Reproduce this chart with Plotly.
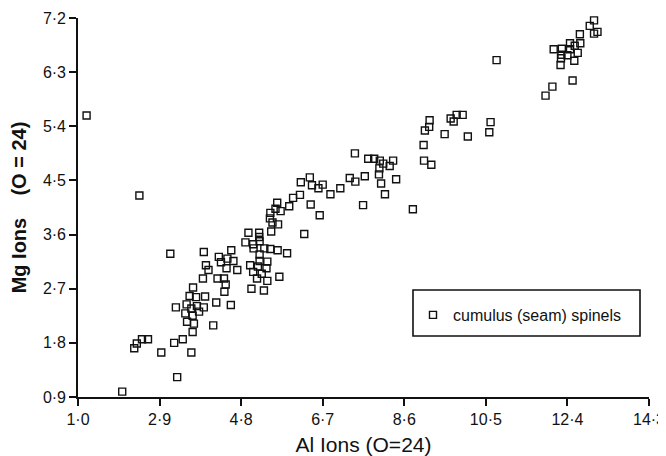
import plotly.graph_objects as go

# Data (Al ions vs Mg ions, O = 24)
al_ions = [
    1.20, 2.43, 3.15, 2.03, 3.31, 8.80, 10.75,
    2.31, 2.37, 2.49, 2.63, 2.94, 3.24, 3.44, 3.64, 3.67, 3.70, 3.54, 3.50,
    3.64, 3.77, 3.82, 3.67, 3.28, 3.53, 3.60, 3.75, 3.68, 3.93, 3.96, 4.15,
    4.22, 4.56, 3.91, 3.98, 4.04, 3.93, 4.25, 4.40, 4.41, 4.44, 4.28, 4.33,
    4.48, 4.46, 4.62, 4.57, 4.71,
    4.90, 4.97, 5.22, 5.22, 5.08, 5.23, 5.09, 5.23, 5.34, 5.48, 5.65, 5.87,
    5.01, 5.08, 5.19, 5.23, 5.41, 5.39, 5.28, 5.17, 5.41, 5.04, 5.33, 5.69,
    5.50, 5.66, 5.53, 5.47, 5.48, 5.60, 5.64, 5.72, 5.92, 6.01, 6.17, 6.27,
    6.19, 6.40, 6.45, 6.42, 6.60, 6.70, 6.63, 6.88, 7.11, 7.33, 7.45, 7.46,
    7.64, 7.68, 7.76, 7.90, 8.03, 8.11, 8.02, 8.26, 8.34, 8.01, 8.06, 8.15,
    8.41,
    9.05, 9.08, 9.18, 9.19, 9.06, 9.23, 9.54, 9.68, 9.75, 9.82, 9.96, 10.08,
    10.58, 10.61,
    11.89, 12.05, 12.52, 12.08, 12.27, 12.26, 12.25, 12.24, 12.40, 12.46,
    12.46, 12.57, 12.64, 12.56, 12.70, 12.69, 12.92, 13.02, 13.10, 13.02,
    12.97,
]
mg_ions = [
    5.58, 4.25, 3.28, 0.99, 1.23, 4.02, 6.50,
    1.71, 1.79, 1.86, 1.86, 1.64, 1.80, 1.86, 1.64, 1.98, 2.12, 2.15, 2.29,
    2.37, 2.41, 2.32, 2.25, 2.39, 2.44, 2.58, 2.56, 2.72, 2.39, 2.57, 2.09,
    2.47, 2.43, 2.87, 3.09, 3.01, 3.31, 2.87, 2.87, 2.65, 2.77, 3.23, 3.14,
    3.20, 3.04, 3.16, 3.34, 3.01,
    3.47, 3.63, 3.63, 3.56, 3.44, 3.49, 3.37, 3.27, 3.37, 3.36, 3.34, 3.29,
    3.09, 2.98, 3.07, 3.16, 3.15, 3.04, 2.95, 2.87, 2.83, 2.70, 2.67, 2.90,
    3.65, 3.77, 3.80, 3.87, 3.96, 4.03, 4.13, 3.99, 4.07, 4.21, 4.26, 3.61,
    4.47, 4.55, 4.42, 4.10, 4.37, 4.43, 3.92, 4.27, 4.37, 4.54, 4.95, 4.48,
    4.09, 4.57, 4.86, 4.86, 4.83, 4.78, 4.70, 4.74, 4.83, 4.60, 4.45, 4.27,
    4.52,
    5.09, 5.33, 5.39, 5.50, 4.83, 4.76, 5.27, 5.53, 5.48, 5.59, 5.59, 5.23,
    5.30, 5.47,
    5.91, 6.06, 6.16, 6.68, 6.69, 6.59, 6.53, 6.42, 6.58, 6.68,
    6.78, 6.74, 6.62, 6.49, 6.78, 6.93, 7.07, 6.94, 6.97, 7.16,
    7.26,
]

x_ticks = [1.0, 2.9, 4.8, 6.7, 8.6, 10.5, 12.4, 14.3]
x_tick_text = ["1·0", "2·9", "4·8", "6·7", "8·6", "10·5", "12·4", "14·3"]
y_ticks = [0.9, 1.8, 2.7, 3.6, 4.5, 5.4, 6.3, 7.2]
y_tick_text = ["0·9", "1·8", "2·7", "3·6", "4·5", "5·4", "6·3", "7·2"]
series_name = "cumulus (seam) spinels"

INK = "#111111"

fig = go.Figure()
fig.add_trace(go.Scatter(
    x=al_ions, y=mg_ions, mode="markers", name=series_name,
    marker=dict(symbol="square-open", size=7, color=INK, line=dict(width=1.4, color=INK)),
    cliponaxis=False,
))

# The page body adds an 8px offset; figure coordinates are page minus 8.
OFF = 8
W, H = 666 - OFF, 456 - OFF
# plot area in page pixels: left 78, right 649, top 18, bottom 397
L, R, T, B = 78 - OFF, 649 - OFF, 18 - OFF, 397 - OFF
pw, ph = R - L, B - T

def px_x(p):
    return (p - OFF - L) / pw

def px_y(p):
    return (B - (p - OFF)) / ph

fig.update_layout(
    width=W, height=H,
    margin=dict(l=L, r=W - R, t=T, b=H - B, autoexpand=False),
    paper_bgcolor="white", plot_bgcolor="white",
    font=dict(family="Liberation Sans, Arial, sans-serif", color=INK),
    showlegend=True,
    legend=dict(
        x=px_x(413), y=px_y(315), xanchor="left", yanchor="middle",
        bgcolor="rgba(0,0,0,0)", borderwidth=0,
        font=dict(size=16, family="Liberation Sans, Arial, sans-serif", color=INK),
        itemwidth=30,
    ),
    shapes=[dict(
        type="rect", xref="paper", yref="paper",
        x0=px_x(413), x1=px_x(640), y0=px_y(336), y1=px_y(290),
        line=dict(color=INK, width=1.6), fillcolor="rgba(0,0,0,0)",
    )],
)

fig.update_xaxes(
    range=[1.0, 14.3001], tickmode="array", tickvals=x_ticks, ticktext=x_tick_text,
    showline=True, linecolor=INK, linewidth=1.6,
    ticks="outside", ticklen=7, tickwidth=1.5, tickcolor=INK,
    showgrid=False, zeroline=False, ticklabeloverflow="allow",
    tickfont=dict(size=16, color=INK),
    title=dict(text="Al Ions (O=24)", font=dict(size=21, color=INK), standoff=13),
    automargin=False,
)
fig.update_yaxes(
    range=[0.9, 7.2001], tickmode="array", tickvals=y_ticks, ticktext=y_tick_text,
    showline=True, linecolor=INK, linewidth=1.6,
    ticks="outside", ticklen=7, tickwidth=1.5, tickcolor=INK,
    showgrid=False, zeroline=False, ticklabeloverflow="allow",
    tickfont=dict(size=16, color=INK),
    title=dict(text="<b>Mg Ions\u00a0\u00a0\u00a0\u00a0(O\u00a0=\u00a024)</b>", font=dict(size=20, color=INK), standoff=12),
    automargin=False,
)

fig.write_html("out.html")
